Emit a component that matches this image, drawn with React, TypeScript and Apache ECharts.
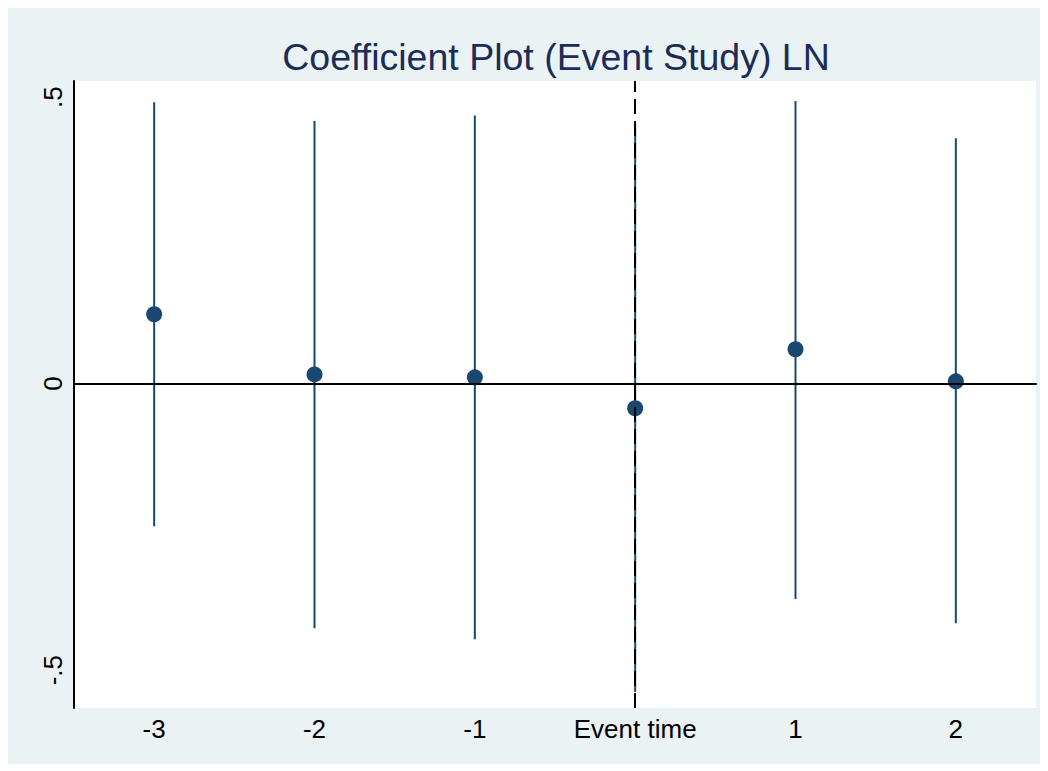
import React, { useEffect, useRef } from "react";
import * as echarts from "echarts";

const categories = ["-3", "-2", "-1", "Event time", "1", "2"];
const coef = [0.121, 0.016, 0.011, -0.043, 0.06, 0.004];
const ciLow = [-0.249, -0.427, -0.446, -0.538, -0.376, -0.418];
const ciHigh = [0.491, 0.458, 0.468, 0.454, 0.493, 0.428];
const yTicks = [-0.5, 0, 0.5];
const yTickLabels = ["-.5", "0", ".5"];

const NAVY = "#1a476f";
const FONT = "'Liberation Sans', Arial, Helvetica, sans-serif";

export default function App() {
  const ref = useRef<HTMLDivElement>(null);
  useEffect(() => {
    if (!ref.current) return;
    const chart = echarts.init(ref.current, undefined, { renderer: "svg" });
    const ciData = categories.map((c, i) => [i, ciLow[i], ciHigh[i]]);
    chart.setOption({
      animation: false,
      backgroundColor: "#eaf2f3",
      textStyle: { fontFamily: FONT },
      title: {
        text: "Coefficient Plot (Event Study) LN",
        left: 543,
        textAlign: "center",
        top: 25,
        textStyle: { fontFamily: FONT, fontSize: 37.5, fontWeight: "normal", color: "#1c2b58" },
      },
      grid: {
        left: 66,
        top: 73,
        right: 5,
        bottom: 56,
        show: true,
        backgroundColor: "#ffffff",
        borderWidth: 0,
      },
      xAxis: {
        type: "category",
        data: categories,
        boundaryGap: true,
        axisLine: { show: true, lineStyle: { color: "#000", width: 2 } },
        axisTick: { show: false },
        axisLabel: { color: "#000", fontSize: 26, fontFamily: FONT, margin: 8 },
        splitLine: { show: false },
      },
      yAxis: {
        type: "value",
        min: -0.566,
        max: 0.528,
        axisLine: { show: true, lineStyle: { color: "#000", width: 2 } },
        axisTick: { show: false },
        splitLine: { show: false },
        axisLabel: {
          customValues: yTicks,
          rotate: 90,
          color: "#000",
          fontSize: 26,
          fontFamily: FONT,
          margin: 8,
          formatter: (v: number) => {
            const idx = yTicks.findIndex((t) => Math.abs(t - v) < 1e-9);
            return idx >= 0 ? yTickLabels[idx] : "";
          },
        },
      },
      series: [
        {
          type: "line",
          data: [],
          z: 1,
          markLine: {
            silent: true,
            symbol: "none",
            label: { show: false },
            data: [
              { yAxis: 0, lineStyle: { color: "#000", width: 2, type: "solid" } },
              { xAxis: "Event time", lineStyle: { color: "#000", width: 2, type: [15, 7] } },
            ],
          },
        },
        {
          type: "custom",
          z: 2,
          data: ciData,
          renderItem: (params: any, api: any) => {
            const lo = api.coord([api.value(0), api.value(1)]);
            const hi = api.coord([api.value(0), api.value(2)]);
            return {
              type: "line",
              shape: { x1: lo[0], y1: lo[1], x2: hi[0], y2: hi[1] },
              style: { stroke: NAVY, lineWidth: 2 },
            };
          },
        },
        {
          type: "scatter",
          z: 3,
          data: coef.map((v, i) => [i, v]),
          symbol: "circle",
          symbolSize: 16,
          itemStyle: { color: NAVY, opacity: 1 },
        },
      ],
    });
    return () => chart.dispose();
  }, []);
  return <div ref={ref} style={{ width: 1033, height: 756 }} />;
}
